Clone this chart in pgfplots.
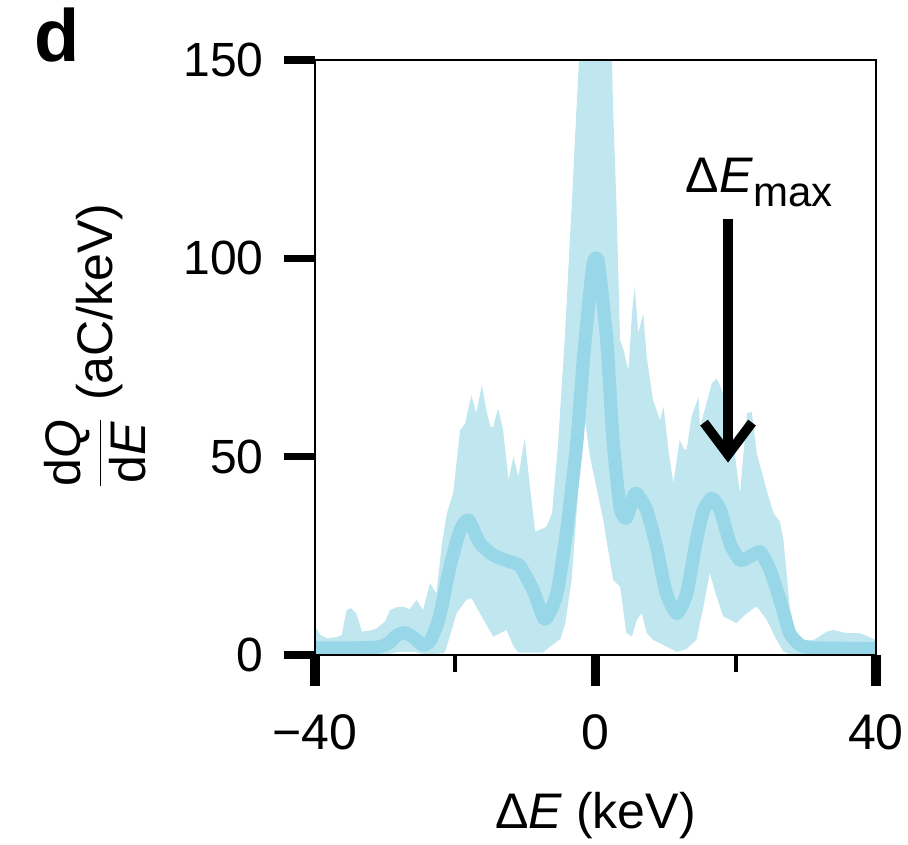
\documentclass[border=0pt]{standalone}
\usepackage{fontspec}
\setmainfont{Liberation Sans}
\usepackage{pgfplots}
\pgfplotsset{compat=1.18}
\usetikzlibrary{arrows.meta}
\definecolor{bandcol}{RGB}{192,230,240}
\definecolor{linecol}{RGB}{151,215,232}

\pgfplotstableread{
x y
-40.0 7.1
-39.2 5.0
-38.3 4.2
-36.9 4.5
-36.2 5.0
-35.5 11.3
-34.9 11.8
-34.1 10.5
-33.3 5.9
-32.0 6.2
-31.2 6.7
-30.0 8.5
-29.3 11.3
-28.4 12.0
-27.4 12.2
-26.5 11.5
-25.5 13.9
-24.6 11.3
-23.6 18.1
-22.7 15.5
-21.9 28.0
-21.2 35.7
-20.3 40.8
-19.3 56.7
-18.6 58.4
-17.7 65.5
-17.0 60.9
-16.2 68.1
-15.6 62.0
-15.0 57.6
-14.6 57.5
-13.9 62.2
-13.2 57.0
-12.4 44.1
-11.7 50.0
-11.0 45.0
-10.1 54.6
-9.3 41.6
-8.6 31.1
-7.0 32.3
-6.2 35.7
-5.3 54.2
-4.4 79.4
-3.4 113.0
-2.7 138.2
-2.2 155.0
-1.0 170.0
0.0 172.0
1.0 170.0
2.3 155.0
2.5 138.2
3.0 113.0
3.5 79.4
4.0 76.9
4.7 71.8
5.2 86.1
5.6 92.8
6.1 81.1
6.8 86.1
7.3 75.2
8.2 64.3
9.2 59.2
9.7 62.6
10.4 51.7
11.1 43.3
12.0 54.2
12.6 52.0
13.0 51.7
13.7 60.1
14.7 65.1
14.9 57.5
15.6 62.0
16.6 68.5
17.3 69.7
18.2 66.0
19.2 60.0
20.1 47.5
20.6 40.7
21.6 60.9
22.3 61.3
23.0 50.8
24.4 41.6
25.4 35.7
26.3 33.6
26.8 29.0
27.7 12.2
28.7 3.8
31.1 3.8
33.0 5.9
33.9 6.3
35.8 5.5
37.7 5.5
40.0 3.8
}\bandup

\pgfplotstableread{
x y
-40.0 0.0
-30.0 0.0
-28.0 0.8
-26.0 0.8
-24.0 0.0
-21.5 0.5
-21.2 2.1
-19.8 10.5
-18.4 13.9
-17.7 14.3
-16.5 10.5
-14.6 4.6
-13.5 5.5
-12.7 6.3
-11.7 2.1
-11.0 0.6
-7.5 0.6
-6.5 2.0
-5.0 4.0
-4.3 8.0
-3.4 18.9
-2.7 35.7
-2.0 52.5
-1.5 59.2
-0.8 50.0
0.2 41.6
1.1 34.0
2.5 18.9
3.5 17.2
4.4 5.5
5.2 4.6
5.9 8.8
6.6 10.5
7.3 5.5
8.2 3.8
10.1 2.1
11.6 0.8
13.0 1.5
14.4 3.8
15.4 12.2
16.3 20.6
17.2 15.0
18.2 9.7
20.1 8.0
21.6 10.5
23.0 12.2
24.4 8.8
25.8 3.8
26.8 0.8
28.0 0.0
40.0 0.0
}\banddown

\pgfplotstableread{
x y
-40.0 1.8
-37.0 1.8
-34.0 1.8
-31.0 2.0
-29.5 3.0
-28.3 5.0
-27.2 5.6
-26.0 4.5
-24.6 2.5
-23.6 3.5
-22.6 7.5
-22.0 11.5
-20.75 22.3
-19.3 31.5
-18.1 34.0
-16.5 28.2
-14.6 25.2
-12.2 23.5
-10.8 22.5
-8.9 16.4
-7.2 9.0
-5.5 15.5
-4.1 31.5
-2.7 53.0
-1.7 75.0
-1.0 88.0
-0.3 99.0
0.4 99.0
1.6 79.4
2.5 54.2
3.5 37.4
4.4 34.5
5.7 40.8
7.3 36.5
8.7 27.3
10.1 15.5
11.6 10.5
13.0 15.5
14.4 29.0
15.4 36.5
16.6 39.5
17.8 36.5
19.2 28.1
20.6 23.9
22.0 24.8
23.5 26.0
24.9 21.4
26.3 13.9
27.7 5.5
29.2 2.5
31.0 1.8
40.0 1.6
}\meanvals

\begin{document}
\begin{tikzpicture}
\begin{axis}[
  name=ax,
  scale only axis,
  width=140.25pt, height=148.75pt,
  xmin=-40, xmax=40, ymin=0, ymax=150,
  axis on top,
  axis line style={line width=0.7pt, black},
  tick align=outside,
  tick pos=left,
  xtick={-40,0,40}, xticklabels={−40,0,40},
  minor xtick={-20,20},
  ytick={0,50,100,150}, yticklabels={0,50,100,150},
  major tick length=7.8pt, minor tick length=4.2pt,
  major tick style={line width=1.8pt, black},
  every major x tick/.append style={line width=2.4pt},
  minor tick style={line width=1pt, black},
  xticklabel style={font=\fontsize{12.5}{14}\selectfont, yshift=-3.5pt},
  yticklabel style={font=\fontsize{12}{14}\selectfont, xshift=-1.5pt},
]
\addplot[fill=bandcol, draw=none] table[x=x,y=y] {\bandup} \closedcycle;
\addplot[fill=white, draw=none] table[x=x,y=y] {\banddown} \closedcycle;
\addplot[linecol, line width=3.3pt, line join=round, line cap=round, smooth, tension=0.35] table[x=x,y=y] {\meanvals};
\draw[line width=2.4pt, -{Straight Barb[length=8pt,width=12pt]}] (axis cs:18.9,110) -- (axis cs:18.9,48.5);
\end{axis}
\node[anchor=base west, inner sep=0pt, font=\fontsize{12.5}{15}\selectfont] at (92.5pt,115.5pt) {Δ\textit{E}\raisebox{-3.5pt}{\fontsize{10.5}{12}\selectfont max}};
\node[anchor=base, inner sep=0pt, font=\fontsize{12.5}{15}\selectfont] at (70.1pt,-43.25pt) {Δ\textit{E} (keV)};
\node[rotate=90, inner sep=0pt, font=\fontsize{12.5}{15}\selectfont] at (-55pt,76.9pt) {$\displaystyle\frac{\mbox{d\textit{Q}}}{\mbox{d\textit{E}}}$ (aC/keV)};
\node[anchor=base west, inner sep=0pt, font=\fontsize{18.5}{22}\selectfont\bfseries] at (-70.2pt,148.25pt) {d};
\pgfresetboundingbox
\path[use as bounding box] (-78.75pt,-47.25pt) rectangle (148.25pt,163.75pt);
\end{tikzpicture}
\end{document}
